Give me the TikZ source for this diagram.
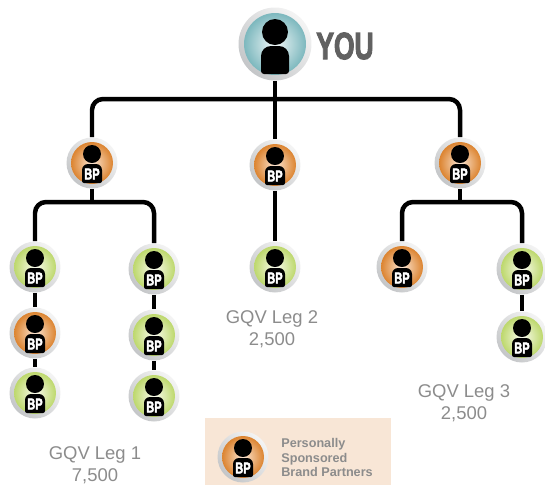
\documentclass[tikz,border=0pt]{standalone}
\usepackage{fontspec}
\setmainfont{Liberation Sans}
\newcommand{\narrowbold}[2]{\scalebox{.7}[1]{\bfseries\special{pdf:code 2 Tr #1 w}#2\special{pdf:code 0 Tr}}}
\definecolor{ringlight}{HTML}{F4F4F4}
\definecolor{ringdark}{HTML}{C4C6C8}
\definecolor{labelgray}{HTML}{8C8C8C}
\definecolor{legendfill}{HTML}{F8E6D6}
\definecolor{orangeout}{HTML}{DC8430}
\definecolor{orangein}{HTML}{FBE6D4}
\definecolor{greenout}{HTML}{BDD86C}
\definecolor{greenin}{HTML}{FAFBF0}
\definecolor{tealout}{HTML}{7DB8BE}
\definecolor{tealin}{HTML}{F2F8F8}
\tikzset{
% common options for the rings and discs:
ring/.style = {circle, inner sep=0, minimum size=1.02cm, left color=ringlight, right color=ringdark, shading angle=-45},
bigring/.style = {ring, minimum size=1.46cm},
orangedisc/.style = {circle, inner sep=0, minimum size=.84cm, inner color=orangein, outer color=orangeout},
greendisc/.style = {circle, inner sep=0, minimum size=.84cm, inner color=greenin, outer color=greenout},
tealdisc/.style = {circle, inner sep=0, minimum size=1.24cm, inner color=tealin, outer color=tealout},
head/.style = {circle, fill=black, inner sep=0, minimum size=.36cm},
bighead/.style = {circle, fill=black, inner sep=0, minimum size=.52cm},
badge/.style = {text=white, inner sep=0, font=\fontsize{9}{9}\selectfont},
link/.style = {draw, line width=.09cm, rounded corners=.22cm},
leglabel/.style = {text=labelgray, align=center, font=\fontsize{10.5}{12.5}\selectfont}
}
% one member: name, position, disc style
\newcommand{\member}[3]{%
\node[ring] (#1) at (#2) {};
\node[#3] (#1disc) at (#1) {};
\node[head] (#1head) at ([shift={(0,-9)}]#1.center) {};
\fill[rounded corners=.04cm] ([shift={(-10,20)}]#1.center) [rounded corners=.12cm] -- ([shift={(-10,1)}]#1.center) -- ([shift={(10,1)}]#1.center) [rounded corners=.04cm] -- ([shift={(10,20)}]#1.center) -- cycle;
\node[badge] (#1bp) at ([shift={(0,11)}]#1.center) {\narrowbold{.25}{BP}};
}
\begin{document}
\begin{tikzpicture}[x=.02cm,y=-.02cm]
\useasboundingbox (0,0) rectangle (545,485);
% legend panel
\node[fill=legendfill, inner sep=0, minimum width=3.72cm, minimum height=1.34cm] (panel) at (298,451.5) {};
% top node
\node[bigring] (you) at (275,44) {};
\node[tealdisc] (youdisc) at (you) {};
\node[bighead] (youhead) at (275,32) {};
\fill[rounded corners=.06cm] (261,74) [rounded corners=.2cm] -- (261,46) -- (289,46) [rounded corners=.06cm] -- (289,74) -- cycle;
\node[text=black!62, inner sep=0, anchor=west, font=\fontsize{21.5}{21.5}\selectfont] (youtext) at (316,46) {\narrowbold{.7}{YOU}};
% members
\member{A0}{92,163}{orangedisc}
\member{B0}{275,165}{orangedisc}
\member{C0}{460,163}{orangedisc}
\member{A1}{35,267}{greendisc}
\member{A2}{35,333}{orangedisc}
\member{A3}{35,393}{greendisc}
\member{A4}{154,269}{greendisc}
\member{A5}{154,335}{greendisc}
\member{A6}{154,396}{greendisc}
\member{B1}{275,267}{greendisc}
\member{C1}{402,267}{orangedisc}
\member{C2}{522,269}{greendisc}
\member{C3}{522,337}{greendisc}
\member{L0}{243,457}{orangedisc}
% connectors
\coordinate (topbus) at (275,99);
\coordinate (abus) at (92,202);
\coordinate (cbus) at (460,202);
\draw[link] (A0.north) |- (topbus) -| (C0.north);
\draw[link] (you.south) to (B0.north);
\draw[link] (A0.south) to (abus);
\draw[link] (A1.north) |- (abus) -| (A4.north);
\draw[link] (C0.south) to (cbus);
\draw[link] (C1.north) |- (cbus) -| (C2.north);
\draw[link] (B0.south) to (B1.north);
\draw[link] (A1.south) to (A2.north);
\draw[link] (A2.south) to (A3.north);
\draw[link] (A4.south) to (A5.north);
\draw[link] (A5.south) to (A6.north);
\draw[link] (C2.south) to (C3.north);
% labels
\node[leglabel] (leg1) at (95,465) {GQV Leg 1\\7,500};
\node[leglabel] (leg2) at (272,329) {GQV Leg 2\\2,500};
\node[leglabel] (leg3) at (464,403) {GQV Leg 3\\2,500};
\node[text=labelgray, align=left, anchor=west, inner sep=0, font=\bfseries\fontsize{7.2}{8}\selectfont] (legtext) at (281,457.5) {Personally\\Sponsored\\Brand Partners};
\end{tikzpicture}
\end{document}
